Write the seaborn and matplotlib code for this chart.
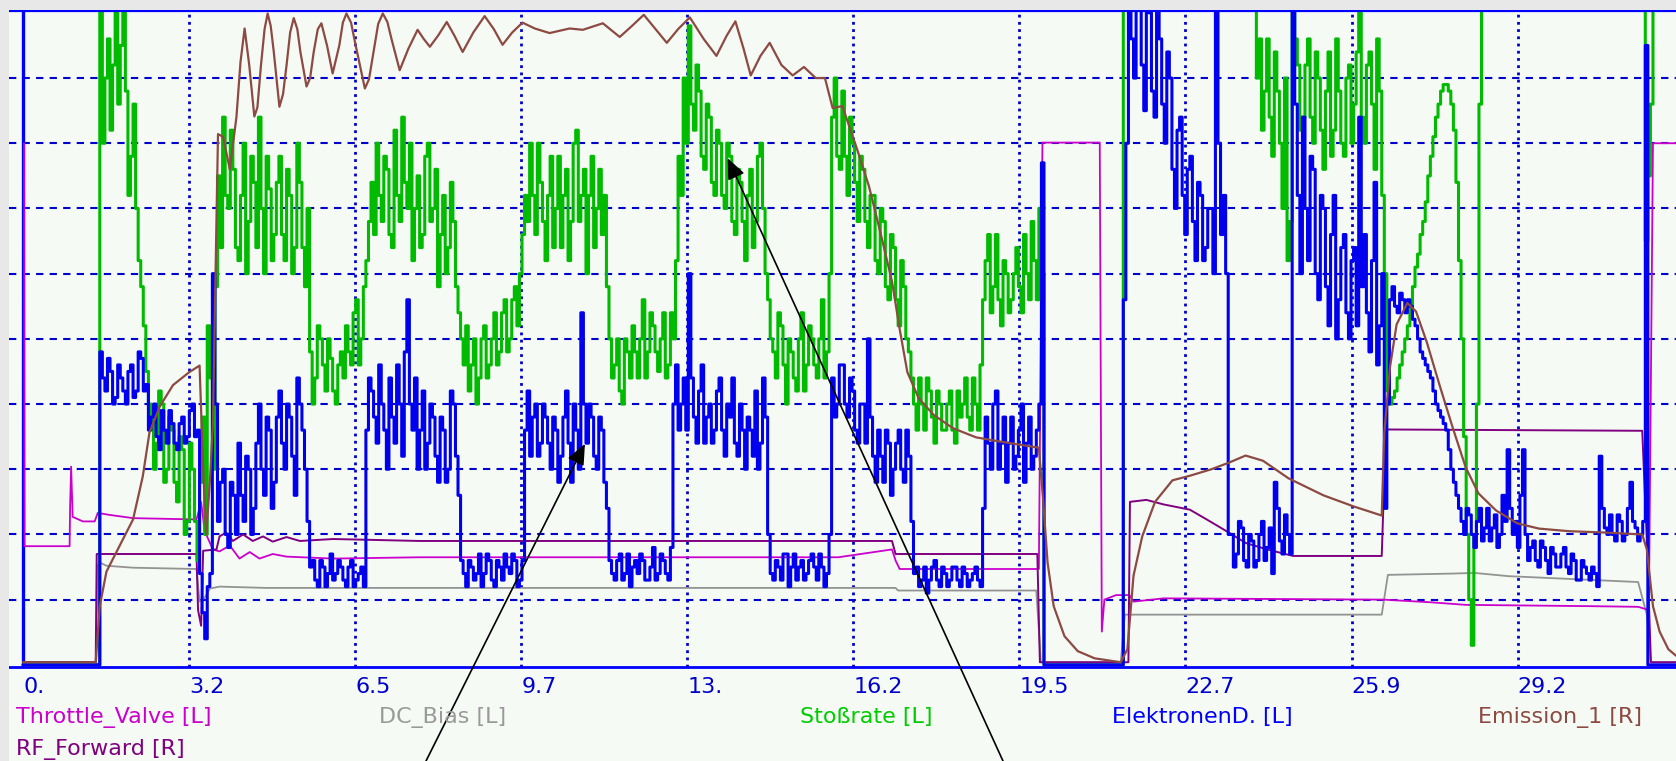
import numpy as np
import pandas as pd
import matplotlib
matplotlib.use("Agg")
import matplotlib.pyplot as plt
from matplotlib.patches import Rectangle
import seaborn as sns

# ---------------- data ----------------
tick_pos = [0.0, 3.245, 6.49, 9.735, 12.98, 16.225, 19.47, 22.715, 25.96, 29.205]
tick_labels = ["0.", "3.2", "6.5", "9.7", "13.", "16.2", "19.5", "22.7", "25.9", "29.2"]

# sample clock of the noisy channels: 0.05 s steps, 0 .. 32.35
t_fast = np.arange(648) / 20.0

# Stoßrate, samples at k/10
stoss_a = [
    0, 0, 0, 0, 0, 0, 0, 0, 0, 0,
    0, 0, 0, 0, 0, 104, 90, 82, 104, 95,
    88, 78, 70, 58, 45, 38, 34, 40, 30, 36,
    25, 33, 22, 30, 16, 38, 52, 30, 75, 84,
    70, 76, 62, 80, 68, 74, 84, 60, 73, 66,
    78, 62, 72, 64, 74, 58, 48, 44, 50, 42,
    47, 40, 48, 52, 46, 56, 50, 62, 74, 80,
    68, 76, 64, 72, 84, 70, 62, 75, 66, 80,
    70, 58, 72, 64, 68, 54, 46, 42, 50, 44,
    52, 46, 54, 48, 56, 50, 58, 60, 72, 80,
    66, 74, 62, 78, 70, 64, 76, 68, 82, 72,
    60, 78, 70, 66, 58, 44, 50, 40, 48, 52,
    44, 56, 48, 52, 45, 54, 46, 50, 78, 90,
    98, 82, 88, 76, 84, 72, 80, 70, 78, 66,
    74, 62, 76, 68, 80, 60, 50, 44, 52, 40,
    48, 42, 54, 46, 50, 44, 56, 48, 84, 78,
    88, 72, 80, 68, 76, 64, 72, 60, 68, 56,
    64, 52, 58, 48, 40, 44, 36, 42, 34, 40,
    36, 42, 34, 38, 44, 36, 40, 46, 62, 54,
    66, 52, 60, 56, 64, 54, 60, 68, 56, 60,
    0, 0, 0, 0, 0, 0, 0, 0, 0, 0,
    0, 0, 0, 0, 0, 110, 110, 110, 110, 110,
    110, 110, 110, 110, 110, 110, 110, 110, 110, 110,
    110, 110, 110, 110, 110, 110, 110, 110, 110, 110,
    110, 90, 82, 96, 78, 88, 70, 62, 104, 92,
    84, 96, 80, 90, 76, 94, 82, 88, 78, 92,
    86, 100, 80, 94, 76, 88, 60, 40, 42, 46,
    50, 55, 61, 66, 71, 78, 84, 88, 89, 86,
    74, 50, 20, 3, 40, 110, 110, 110, 110, 110,
    110, 110, 110, 110, 110, 110, 110, 110, 110, 110,
    110, 110, 110, 110, 110, 110, 110, 110, 110, 110,
    110, 110, 110, 110, 110, 110, 110, 65, 86, 110,
    110, 110, 110, 110,
]
# Stoßrate, samples at k/10 + 0.05
stoss_b = [
    0, 0, 0, 0, 0, 0, 0, 0, 0, 0,
    0, 0, 0, 0, 0, 80, 96, 92, 86, 104,
    72, 86, 62, 52, 40, 30, 42, 28, 38, 28,
    35, 20, 34, 22, 28, 20, 44, 58, 64, 72,
    82, 64, 72, 60, 78, 64, 70, 78, 62, 74,
    66, 76, 60, 80, 64, 70, 40, 52, 46, 50,
    42, 46, 44, 48, 54, 46, 58, 68, 66, 72,
    78, 66, 82, 68, 74, 80, 70, 64, 78, 68,
    76, 66, 60, 74, 58, 50, 52, 46, 40, 50,
    44, 50, 46, 54, 48, 56, 52, 66, 68, 72,
    80, 68, 72, 64, 78, 72, 62, 80, 68, 76,
    72, 64, 76, 72, 50, 46, 42, 50, 44, 48,
    50, 44, 54, 48, 50, 44, 54, 62, 72, 80,
    86, 92, 78, 86, 74, 82, 72, 80, 68, 76,
    68, 72, 64, 78, 70, 56, 48, 54, 46, 50,
    44, 50, 42, 52, 46, 50, 44, 60, 90, 76,
    78, 84, 74, 78, 68, 72, 62, 70, 58, 66,
    56, 62, 50, 44, 36, 40, 44, 38, 42, 36,
    40, 36, 42, 40, 38, 44, 36, 56, 66, 58,
    56, 62, 54, 60, 58, 66, 56, 62, 70, 0,
    0, 0, 0, 0, 0, 0, 0, 0, 0, 0,
    0, 0, 0, 0, 0, 110, 110, 110, 110, 110,
    110, 110, 110, 110, 110, 110, 110, 110, 110, 110,
    110, 110, 110, 110, 110, 110, 110, 110, 110, 110,
    104, 96, 88, 84, 94, 80, 90, 68, 96, 82,
    92, 84, 94, 82, 88, 78, 96, 80, 90, 80,
    94, 84, 92, 86, 96, 72, 42, 41, 44, 48,
    52, 58, 63, 68, 75, 81, 86, 89, 88, 82,
    62, 35, 10, 20, 86, 110, 110, 110, 110, 110,
    110, 110, 110, 110, 110, 110, 110, 110, 110, 110,
    110, 110, 110, 110, 110, 110, 110, 110, 110, 110,
    110, 110, 110, 110, 110, 110, 110, 75, 110, 110,
    110, 110, 110, 110,
]

# ElektronenD., samples at k/10
elek_a = [
    0, 0, 0, 0, 0, 0, 0, 0, 0, 0,
    0, 0, 0, 0, 0, 48, 42, 45, 41, 44,
    40, 46, 42, 47, 43, 38, 35, 39, 34, 37,
    33, 38, 35, 40, 36, 8, 12, 60, 22, 30,
    18, 26, 34, 22, 30, 24, 40, 26, 36, 28,
    42, 30, 38, 26, 40, 30, 15, 13, 16, 12,
    17, 14, 15, 12, 16, 13, 15, 36, 42, 34,
    40, 30, 38, 46, 32, 56, 36, 30, 42, 34,
    38, 28, 36, 30, 40, 26, 14, 16, 13, 17,
    14, 16, 12, 15, 17, 14, 16, 13, 36, 32,
    40, 34, 38, 30, 36, 32, 42, 28, 36, 54,
    34, 38, 30, 36, 24, 14, 16, 13, 17, 15,
    14, 16, 13, 18, 14, 16, 13, 40, 36, 44,
    60, 38, 42, 34, 40, 36, 44, 32, 38, 34,
    40, 30, 36, 42, 34, 38, 14, 16, 13, 17,
    15, 13, 16, 14, 17, 13, 15, 14, 44, 40,
    46, 38, 42, 34, 40, 50, 32, 36, 28, 34,
    30, 36, 28, 32, 14, 12, 15, 13, 16, 12,
    14, 13, 15, 12, 14, 13, 15, 12, 38, 30,
    42, 34, 28, 38, 32, 40, 34, 30, 36, 77,
    0, 0, 0, 0, 0, 0, 0, 0, 0, 0,
    0, 0, 0, 0, 0, 56, 104, 90, 104, 85,
    100, 84, 96, 80, 90, 70, 84, 66, 78, 62,
    72, 64, 70, 104, 66, 60, 20, 17, 21, 15,
    19, 16, 22, 18, 14, 24, 17, 20, 104, 72,
    84, 62, 76, 56, 70, 52, 72, 56, 66, 50,
    64, 84, 66, 48, 74, 52, 24, 56, 55, 57,
    54, 55, 52, 48, 46, 44, 40, 38, 36, 30,
    26, 22, 24, 20, 22, 19, 24, 21, 18, 26,
    33, 20, 18, 33, 16, 19, 15, 18, 14, 17,
    15, 18, 14, 16, 13, 15, 13, 14, 32, 21,
    23, 19, 22, 20, 28, 21, 20, 95, 0, 0,
    0, 0, 0, 0,
]
# ElektronenD., samples at k/10 + 0.05
elek_b = [
    0, 0, 0, 0, 0, 0, 0, 0, 0, 0,
    0, 0, 0, 0, 0, 44, 47, 40, 46, 42,
    45, 41, 48, 42, 36, 40, 33, 36, 39, 34,
    37, 34, 39, 35, 14, 4, 14, 40, 28, 20,
    28, 20, 26, 32, 20, 34, 30, 38, 24, 38,
    34, 40, 32, 44, 36, 22, 16, 12, 15, 14,
    13, 16, 13, 15, 12, 14, 12, 44, 38, 46,
    36, 44, 34, 40, 48, 40, 44, 36, 30, 40,
    32, 38, 28, 42, 32, 16, 12, 15, 14, 12,
    17, 13, 16, 13, 15, 17, 12, 16, 42, 38,
    32, 40, 34, 38, 28, 38, 34, 40, 30, 40,
    40, 32, 38, 28, 16, 13, 17, 14, 12, 16,
    17, 13, 15, 13, 17, 14, 18, 46, 40, 36,
    44, 34, 46, 38, 34, 42, 36, 40, 44, 32,
    36, 38, 32, 30, 44, 20, 13, 15, 17, 12,
    17, 15, 13, 16, 15, 17, 12, 20, 38, 46,
    40, 44, 36, 40, 34, 38, 28, 32, 36, 26,
    34, 30, 36, 22, 15, 13, 11, 15, 13, 15,
    12, 15, 13, 15, 12, 14, 13, 24, 34, 40,
    30, 38, 34, 30, 36, 28, 38, 32, 40, 0,
    0, 0, 0, 0, 0, 0, 0, 0, 0, 0,
    0, 0, 0, 0, 0, 80, 96, 104, 92, 104,
    88, 102, 86, 94, 76, 82, 72, 76, 68, 74,
    62, 70, 60, 80, 72, 20, 15, 22, 16, 20,
    15, 20, 16, 21, 28, 19, 23, 17, 86, 60,
    70, 78, 60, 72, 58, 66, 50, 64, 54, 62,
    52, 58, 54, 62, 46, 60, 40, 58, 54, 56,
    56, 53, 50, 47, 45, 42, 39, 37, 33, 28,
    24, 20, 23, 18, 24, 21, 19, 23, 20, 22,
    24, 22, 26, 20, 18, 16, 19, 16, 18, 15,
    17, 15, 17, 13, 16, 14, 15, 12, 24, 20,
    20, 23, 19, 24, 22, 19, 22, 0, 0, 0,
    0, 0, 0, 0,
]

emission_t = [0, 1.42, 1.50, 1.63, 1.89, 2.15, 2.34, 2.47, 2.67, 2.93, 3.25, 3.45, 3.52, 3.58,
              3.65, 3.71, 3.81, 3.91, 4.04, 4.17, 4.25, 4.33, 4.42, 4.52, 4.58, 4.65, 4.72,
              4.78, 4.84, 4.90, 5.01, 5.08, 5.15, 5.22, 5.29, 5.36, 5.42, 5.54, 5.61, 5.68,
              5.76, 5.83, 5.94, 6.05, 6.18, 6.25, 6.32, 6.41, 6.50, 6.68, 6.76, 6.85, 6.94,
              7.03, 7.12, 7.20, 7.36, 7.53, 7.71, 7.83, 7.95, 8.11, 8.28, 8.43, 8.59, 8.80, 9.02,
              9.20, 9.37, 9.56, 9.76, 10.0, 10.29, 10.68, 10.94, 11.33, 11.66, 11.90, 12.13,
              12.36, 12.58, 12.80, 13.03, 13.30, 13.55, 13.75, 13.92, 14.08, 14.22, 14.41,
              14.59, 14.82, 15.04, 15.26, 15.49, 15.67, 15.82, 16.01, 16.31, 16.53, 16.76,
              16.98, 17.13, 17.28, 17.50, 17.80, 18.17, 18.62, 19.05, 19.85, 19.93, 20.02,
              20.14, 20.35, 20.61, 20.94, 21.45, 21.58, 21.70, 21.87, 22.12, 22.46, 22.80,
              23.22, 23.56, 23.89, 24.23, 24.73, 25.41, 26.00, 26.55, 26.60, 26.71, 26.84,
              27.05, 27.22, 27.43, 27.68, 27.94, 28.19, 28.44, 28.78, 29.20, 29.62, 30.21,
              30.89, 31.64, 31.73, 31.85, 31.98, 32.15, 32.30]
emission_v = [0.4, 0.4, 9.0, 14.3, 18.3, 22.3, 28.9, 35.6, 39.6, 42.9, 44.9, 45.9, 30, 20,
              28, 36.9, 81.4, 81.0, 76.0, 84.0, 92.5, 97.6, 92.0, 84.1, 85.5, 92.0, 97.5,
              99.9, 98.0, 94.0, 85.6, 87.5, 92.0, 97.0, 99.2, 97.5, 94.0, 88.7, 90.0, 94.0,
              97.5, 98.4, 95.0, 90.7, 95.0, 98.5, 99.9, 98.5, 95.0, 88.4, 89.8, 94.0, 98.3,
              99.9, 98.6, 96.0, 91.2, 94.5, 97.4, 96.0, 94.8, 96.5, 98.6, 96.5, 94.0, 97.0, 99.5,
              97.5, 95.1, 97.0, 98.5, 97.6, 96.9, 97.6, 97.4, 98.4, 96.3, 98.0, 99.7,
              97.5, 95.4, 97.5, 99.3, 96.0, 93.4, 96.5, 98.7, 94.5, 90.4, 93.4,
              95.4, 92.0, 90.4, 91.7, 90.0, 90.0, 85.4, 85.7, 78.8, 73.4, 66.1,
              58.8, 51.5, 44.9, 40.9, 38.3, 36.3, 34.9, 34.3, 33.3, 25.6, 15.7,
              9.0, 4.4, 2.1, 1.0, 0.4, 2.4, 13.7, 19.7, 25.0, 28.3, 29.0,
              30.0, 31.0, 32.1, 31.3, 28.6, 26.0, 24.3, 22.9, 35.6, 45.6, 52.2,
              55.5, 54.2, 49.5, 42.9, 36.3, 30.3, 26.3, 23.7, 21.7, 20.9, 20.5,
              20.3, 20.0, 17.7, 9.0, 5.1, 2.4, 1.4]

rf_t = [0, 1.42, 1.44, 3.39, 3.42, 3.48, 3.52, 3.78, 3.84, 3.97, 4.10, 4.30, 4.49, 4.69, 4.88,
        5.15, 5.41, 6.06, 7.75, 16.98, 17.05, 19.82, 19.87, 21.60, 21.63, 21.95, 22.29, 22.80,
        23.13, 23.56, 23.89, 24.31, 24.82, 26.55, 26.63, 31.64, 31.73, 31.81, 32.30]
rf_v = [0.4, 0.4, 17.0, 17.0, 8.4, 6.0, 17.5, 17.7, 19.7, 20.3, 19.0, 20.0, 19.0, 19.7, 18.9,
        19.6, 19.0, 19.3, 19.0, 19.0, 17.0, 17.0, 0.4, 0.4, 25.0, 25.3, 24.6, 23.8,
        22.3, 20.3, 18.7, 17.7, 16.7, 16.7, 36.1, 35.9, 19.0, 0.4, 0.4]

throttle_t = [0.02, 0.03, 0.91, 0.92, 0.94, 0.97, 1.17, 1.40, 1.46, 1.69, 2.15, 3.39, 3.48, 3.55,
              3.71, 3.84, 4.04, 4.23, 4.43, 4.62, 4.88, 5.15, 6.06, 7.75, 15.93, 16.98, 17.05,
              17.13, 19.85, 19.92, 21.04, 21.08, 21.13, 21.36, 21.62, 21.70, 22.29, 26.59, 27.50,
              28.19, 30.63, 31.56, 31.77, 31.85, 32.30]
throttle_v = [80.0, 18.2, 18.2, 24.3, 30.4, 22.7, 22.0, 22.0, 23.3, 23.0, 22.5, 22.3, 25.0, 20.5,
              17.7, 17.4, 18.3, 16.3, 17.3, 16.3, 17.0, 16.6, 16.3, 16.5, 16.5, 17.7, 16.0,
              14.7, 14.7, 80.1, 80.1, 5.1, 10.0, 10.7, 10.7, 9.7, 10.2, 10.0, 9.6,
              9.2, 9.0, 8.9, 8.4, 80.0, 80.0]

dcbias_t = [0, 1.43, 1.46, 1.50, 1.63, 2.15, 3.39, 3.45, 3.55, 3.65, 3.84, 4.75, 6.06, 17.05,
            17.10, 19.80, 19.89, 21.45, 21.53, 26.55, 26.67, 27.94, 28.36, 29.03, 30.72, 31.56,
            31.73, 31.81, 32.30]
dcbias_v = [0.4, 0.4, 15.3, 15.7, 15.2, 14.9, 14.7, 9.7, 10.3, 11.7, 12.0, 11.8, 11.8, 11.8,
            11.4, 11.4, 0.4, 0.4, 7.7, 7.7, 13.8, 14.0, 14.1, 13.6, 13.0, 12.7,
            7.7, 0.4, 0.4]

legend_names = ["Throttle_Valve [L]", "DC_Bias [L]", "Stoßrate [L]", "ElektronenD. [L]",
                "Emission_1 [R]", "RF_Forward [R]"]

# ---------------- style ----------------
sns.set_style("white")
plt.rcParams["font.family"] = ["DejaVu Sans"]

BG = "#f5faf5"
GRID = "#0000cc"
C_THR = "#cc00cc"
C_DC = "#939393"
C_GREEN = "#00bb00"
C_BLUE = "#0000ee"
C_BROWN = "#8c4a42"
C_RF = "#800080"

W, H = 1676, 761
fig = plt.figure(figsize=(W / 100, H / 100), dpi=100, facecolor=BG)
ax = fig.add_axes([9 / W, (H - 667) / H, (W - 9) / W, (667 - 10.5) / H])
ax.set_facecolor(BG)

ax.set_xlim(-0.274, 32.30)
ax.set_ylim(-0.33, 100.36)

# grid
ax.set_yticks([10, 20, 30, 40, 50, 60, 70, 80, 90])
ax.set_xticks(tick_pos)
ax.set_xticklabels(tick_labels)
ax.yaxis.grid(True, color=GRID, lw=1.5, linestyle=(0, (3.5, 3.0)))
ax.xaxis.grid(True, color=GRID, lw=2.0, linestyle=(0, (1.0, 1.6)))
ax.set_axisbelow(True)
ax.tick_params(axis="y", left=False, labelleft=False)
ax.tick_params(axis="x", direction="out", length=6, width=1.5, color=GRID,
               labelcolor=GRID, labelsize=16, pad=1.5)
for lab in ax.get_xticklabels():
    lab.set_horizontalalignment("left")

for s in ["left", "right"]:
    ax.spines[s].set_visible(False)
ax.spines["bottom"].set_color("#0000ff")
ax.spines["bottom"].set_linewidth(2.0)
ax.spines["top"].set_color("#0000ff")
ax.spines["top"].set_linewidth(1.6)
ax.axvline(0, color="#0000ff", lw=2.4, zorder=1.5)

# series
green = np.column_stack([stoss_a, stoss_b]).ravel()
blue = np.column_stack([elek_a, elek_b]).ravel()
df_fast = pd.DataFrame({"t": t_fast, "green": green, "blue": blue})

sns.lineplot(x=dcbias_t, y=dcbias_v, ax=ax, color=C_DC, lw=1.3, estimator=None, sort=False)
sns.lineplot(x=throttle_t, y=throttle_v, ax=ax, color=C_THR, lw=1.3, estimator=None, sort=False)
sns.lineplot(x=rf_t, y=rf_v, ax=ax, color=C_RF, lw=1.4, estimator=None, sort=False)
sns.lineplot(data=df_fast, x="t", y="green", ax=ax, color=C_GREEN, lw=2.2,
             drawstyle="steps-post", estimator=None, sort=False)
sns.lineplot(data=df_fast, x="t", y="blue", ax=ax, color=C_BLUE, lw=2.2,
             drawstyle="steps-post", estimator=None, sort=False)
sns.lineplot(x=emission_t, y=emission_v, ax=ax, color=C_BROWN, lw=1.6, estimator=None, sort=False)
ax.set_xlabel("")
ax.set_ylabel("")

# grey window strips
fig.patches.append(Rectangle((0, 0), 9 / W, 1, transform=fig.transFigure,
                             facecolor="#e8e8e8", edgecolor="none", zorder=5))
fig.patches.append(Rectangle((0, 1 - 10 / H), 1, 10 / H, transform=fig.transFigure,
                             facecolor="#e8e8e8", edgecolor="none", zorder=5))

# legend texts
leg_colors = [C_THR, "#9a9a9a", "#00cc00", "#0000ff", "#8c4a42", C_RF]
leg_x = [16, 379, 800, 1112, 1478, 16]
leg_base = [723, 723, 723, 723, 723, 755]
for name, c, x, yb in zip(legend_names, leg_colors, leg_x, leg_base):
    fig.text(x / W, 1 - yb / H, name, color=c, fontsize=16, ha="left", va="baseline")

# arrows
arrow = dict(arrowstyle="-|>,head_length=0.7,head_width=0.3", color="black", lw=1.2,
             mutation_scale=18, shrinkA=0, shrinkB=0)
ax.annotate("", xy=(10.98, 33.9), xycoords="data", xytext=(426 / W, 0.0),
            textcoords="figure fraction", arrowprops=arrow, annotation_clip=False)
ax.annotate("", xy=(13.77, 77.7), xycoords="data", xytext=(1003 / W, 0.0),
            textcoords="figure fraction", arrowprops=arrow, annotation_clip=False)

fig.savefig("out.png", dpi=100, facecolor=BG)
